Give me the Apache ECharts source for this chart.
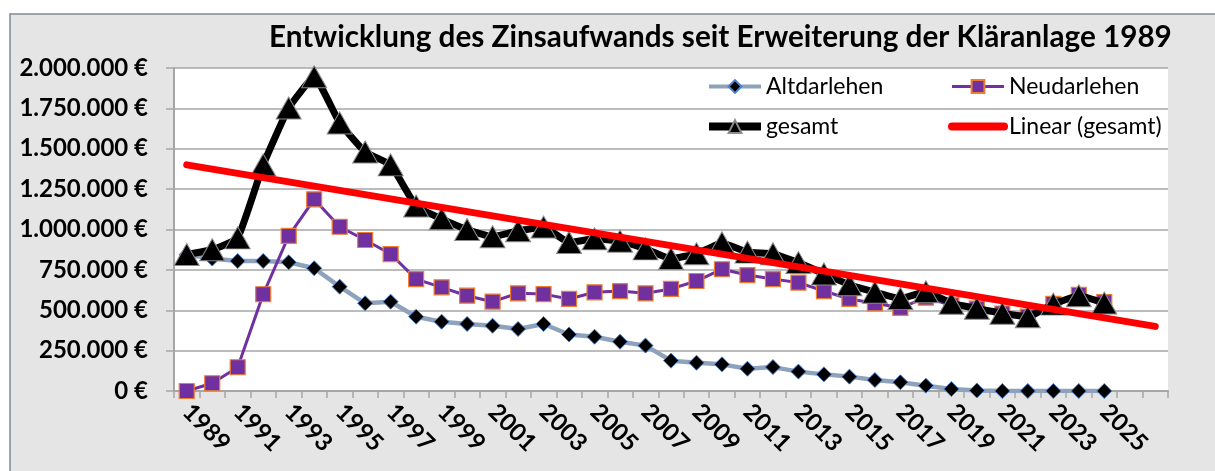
<!DOCTYPE html>
<html>
<head>
<meta charset="utf-8">
<title>Zinsaufwand</title>
<script src="https://cdn.jsdelivr.net/npm/echarts@6/dist/echarts.min.js"></script>
<style>
  html, body { margin: 0; padding: 0; background: #fff; }
  #chart { width: 1215px; height: 471px; }
</style>
</head>
<body>
<div id="chart"></div>
<script>
// Jahre (Kategorien)
const jahre = ['1989','1990','1991','1992','1993','1994','1995','1996','1997','1998',
  '1999','2000','2001','2002','2003','2004','2005','2006','2007','2008',
  '2009','2010','2011','2012','2013','2014','2015','2016','2017','2018',
  '2019','2020','2021','2022','2023','2024','2025'];
// Prognosejahre der Trendlinie (ohne Beschriftung)
const prognoseJahre = ['2026', '2027'];

// Werte in Euro
const altdarlehen = [845000, 820000, 805000, 805000, 797000, 760000, 646000, 543000, 553000, 460000,
  429000, 415000, 404000, 384000, 415000, 350000, 336000, 305000, 281000, 188000,
  175000, 165000, 138000, 148000, 120000, 103000, 89000, 68000, 54000, 33000,
  12000, 3000, 0, 0, 0, 0, 0];
const neudarlehen = [0, 48000, 147000, 599000, 960000, 1187000, 1017000, 935000, 848000, 693000,
  642000, 590000, 553000, 605000, 600000, 570000, 611000, 619000, 605000, 632000,
  681000, 754000, 718000, 693000, 671000, 619000, 570000, 543000, 515000, 578000,
  531000, 510000, 480000, 460000, 540000, 595000, 550000];
const gesamt = [845000, 875000, 948000, 1400000, 1752000, 1946000, 1660000, 1480000, 1400000, 1145000,
  1066000, 1000000, 955000, 992000, 1015000, 920000, 942000, 928000, 880000, 820000,
  850000, 917000, 860000, 850000, 795000, 725000, 658000, 612000, 572000, 615000,
  543000, 512000, 481000, 460000, 538000, 590000, 545000];
// Linearer Trend (gesamt): Start- und Endpunkt
const trendJahre = ['1989', '2027'];
const trendWerte = [1400000, 400000];

// y-Achse
const yMin = 0;
const yMax = 2000000;
const yStep = 250000;

const fontFamily = 'Lato, "Open Sans", sans-serif';

// Euro-Format mit Punkt als Tausendertrenner
const euro = (v) => String(v).replace(/\B(?=(\d{3})+(?!\d))/g, '.') + ' €';

const chart = echarts.init(document.getElementById('chart'));

const legendText = { fontFamily: fontFamily, fontSize: 23, color: '#000' };

const option = {
  animation: false,
  backgroundColor: '#ffffff',
  textStyle: { fontFamily: fontFamily },
  graphic: [
    {
      type: 'rect',
      z: -10,
      silent: true,
      shape: { x: 10, y: 14, width: 1300, height: 600 },
      style: { fill: '#e5e5e5', stroke: '#7f8994', lineWidth: 1.5 }
    }
  ],
  title: {
    text: 'Entwicklung des Zinsaufwands seit Erweiterung der Kläranlage 1989',
    left: 269,
    top: 22,
    padding: 0,
    textStyle: { fontFamily: fontFamily, fontSize: 29.7, fontWeight: 'bold', color: '#000' }
  },
  legend: [
    {
      orient: 'vertical',
      left: 700,
      top: 70,
      itemWidth: 52,
      itemHeight: 16,
      itemGap: 17,
      textStyle: legendText,
      data: [
        { name: 'Altdarlehen', lineStyle: { width: 4 } },
        { name: 'gesamt', lineStyle: { width: 8 } }
      ]
    },
    {
      orient: 'vertical',
      left: 943,
      top: 70,
      itemWidth: 52,
      itemHeight: 16,
      itemGap: 17,
      textStyle: legendText,
      data: [
        { name: 'Neudarlehen', lineStyle: { width: 3 } },
        { name: 'Linear (gesamt)', lineStyle: { width: 8, cap: 'round' }, itemStyle: { opacity: 0 } }
      ]
    }
  ],
  grid: {
    left: 174,
    right: 47,
    top: 68,
    bottom: 80,
    show: true,
    backgroundColor: '#ffffff',
    borderWidth: 0
  },
  xAxis: {
    type: 'category',
    boundaryGap: true,
    data: jahre.concat(prognoseJahre),
    axisLine: { lineStyle: { color: '#a6a6a6', width: 2 } },
    axisTick: { show: true, interval: 0, length: 7, lineStyle: { color: '#a6a6a6', width: 1.5 } },
    axisLabel: {
      interval: 1,
      rotate: -45,
      margin: 17,
      fontFamily: fontFamily,
      fontSize: 24,
      fontWeight: 'bold',
      color: '#000',
      formatter: (v) => (prognoseJahre.indexOf(v) >= 0 ? '' : v)
    },
    splitLine: { show: false }
  },
  yAxis: {
    type: 'value',
    min: yMin,
    max: yMax,
    interval: yStep,
    axisLine: { show: true, lineStyle: { color: '#a6a6a6', width: 2 } },
    axisTick: { show: true, length: 8, lineStyle: { color: '#a6a6a6', width: 1.5 } },
    axisLabel: {
      margin: 26,
      fontFamily: fontFamily,
      fontSize: 24,
      fontWeight: 'bold',
      color: '#000',
      formatter: euro
    },
    splitLine: { show: true, lineStyle: { color: '#a6a6a6', width: 1.5 } }
  },
  series: [
    {
      name: 'Altdarlehen',
      type: 'line',
      data: altdarlehen,
      z: 2,
      showAllSymbol: true,
      symbol: 'diamond',
      symbolSize: 15,
      lineStyle: { color: '#8ea2bb', width: 4.5 },
      itemStyle: { color: '#000000', borderColor: '#4a7fd0', borderWidth: 1 }
    },
    {
      name: 'Neudarlehen',
      type: 'line',
      data: neudarlehen,
      z: 3,
      showAllSymbol: true,
      symbol: 'rect',
      symbolSize: 15,
      lineStyle: { color: '#7030a0', width: 3 },
      itemStyle: { color: '#7030a0', borderColor: '#ed7d31', borderWidth: 1.2 }
    },
    {
      name: 'gesamt',
      type: 'line',
      data: gesamt,
      z: 4,
      smooth: 0.12,
      showAllSymbol: true,
      symbol: 'triangle',
      symbolSize: [25, 22],
      lineStyle: { color: '#000000', width: 7 },
      itemStyle: { color: '#000000', borderColor: '#8c8c8c', borderWidth: 1 }
    },
    {
      name: 'Linear (gesamt)',
      type: 'line',
      data: trendJahre.map((j, i) => [j, trendWerte[i]]),
      z: 5,
      symbol: 'none',
      lineStyle: { color: '#ff0000', width: 7, cap: 'round' },
      itemStyle: { color: '#ff0000' }
    }
  ]
};

chart.setOption(option);
</script>
</body>
</html>
